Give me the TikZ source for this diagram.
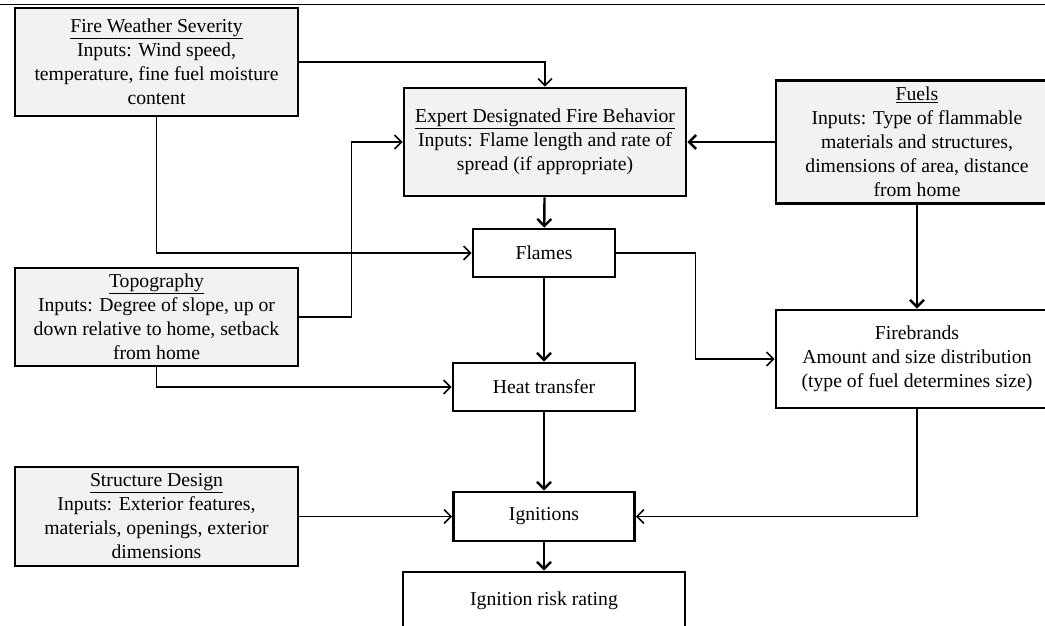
\documentclass[tikz,border=0pt]{standalone}
\usepackage{fontspec}
\setmainfont{Liberation Serif}
\usetikzlibrary{arrows.meta}
\definecolor{inputgray}{HTML}{F2F2F2}

\begin{document}
\begin{tikzpicture}[x=1pt,y=-1pt,
    >={Straight Barb[length=7pt,width=14pt]},
    font=\fontsize{19.7}{24}\selectfont,
    stagebox/.style={draw,line width=2.8pt,align=center,inner sep=0pt},
    inputbox/.style={stagebox,fill=inputgray},
    thinarrow/.style={->,line width=1.5pt},
    thickarrow/.style={->,line width=2.4pt}]
\useasboundingbox (0,0) rectangle (1045,626);
\draw [line width=1pt] (0,5) -- (1045,5);

\node [inputbox,minimum width=283,minimum height=108] (weather)    at (156.5,  62)
    {\underline{Fire Weather Severity}\\ Inputs: Wind speed,\\
     temperature, fine fuel moisture\\ content};
\node [inputbox,minimum width=282,minimum height=108] (behavior)   at (  545, 142)
    {\underline{Expert Designated Fire Behavior}\\
     Inputs: Flame length and rate of\\ spread (if appropriate)};
\node [inputbox,minimum width=282,minimum height=123] (fuels)      at (  917, 142)
    {\underline{Fuels}\\ Inputs: Type of flammable\\ materials and structures,\\
     dimensions of area, distance\\ from home};
\node [inputbox,minimum width=283,minimum height=98]  (topo)       at (156.5, 317)
    {\underline{Topography}\\ Inputs: Degree of slope, up or\\
     down relative to home, setback\\ from home};
\node [inputbox,minimum width=283,minimum height=99]  (design)     at (156.5, 516.5)
    {\underline{Structure Design}\\ Inputs: Exterior features,\\
     materials, openings, exterior\\ dimensions};

\node [stagebox,minimum width=142,minimum height=48]  (flames)     at (  544, 253) {Flames};
\node [stagebox,minimum width=182,minimum height=48]  (heat)       at (  544, 387) {Heat transfer};
\node [stagebox,minimum width=282,minimum height=98]  (firebrands) at (  917, 359)
    {Firebrands\\ Amount and size distribution\\ (type of fuel determines size)};
\node [stagebox,minimum width=181,minimum height=49]  (ignitions)  at (  544, 516.5) {Ignitions};
\node [stagebox,minimum width=282,minimum height=58]  (risk)       at (  544, 601) {Ignition risk rating};

\draw [thinarrow]  (weather) -| (behavior);
\draw [thinarrow]  (weather) |- (flames);
\draw [thinarrow]  (topo.east) -- ++(52,0) |- (behavior.west);
\draw [thinarrow]  (topo) |- (heat);
\draw [thickarrow] (fuels) -- (behavior);
\draw [thickarrow] (behavior) -- (flames);
\draw [thickarrow] (fuels) -- (firebrands);
\draw [thinarrow]  (flames.east) -- ++(79,0) |- (firebrands.west);
\draw [thickarrow] (flames) -- (heat);
\draw [thickarrow] (heat) -- (ignitions);
\draw [thinarrow]  (firebrands) |- (ignitions);
\draw [thinarrow]  (design) -- (ignitions);
\draw [thickarrow] (ignitions) -- (risk);
\end{tikzpicture}
\end{document}
